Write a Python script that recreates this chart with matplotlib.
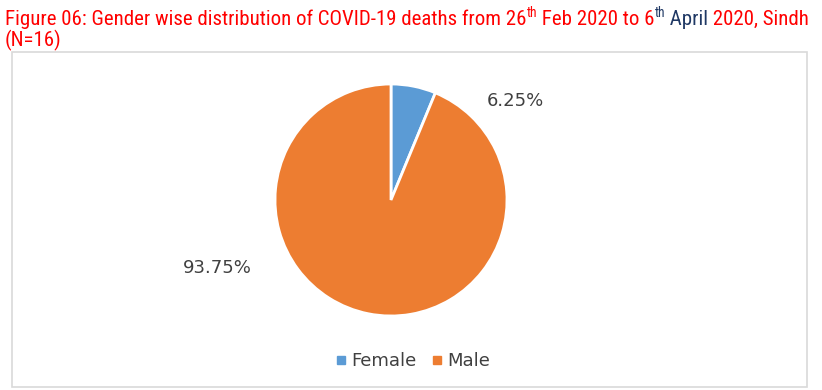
import matplotlib.pyplot as plt
from matplotlib.patches import Rectangle
from matplotlib.lines import Line2D
from matplotlib import font_manager

categories = ["Female", "Male"]
values = [1, 15]
pct_labels = ["6.25%", "93.75%"]
colors = ["#5B9BD5", "#ED7D31"]

W, H = 822, 390
fig = plt.figure(figsize=(W / 100, H / 100), dpi=100)

def fx(px):
    return px / W

def fy(py):
    return 1 - py / H

installed = {f.name for f in font_manager.fontManager.ttflist}
title_font = "DejaVu Sans"
for name in ["Liberation Sans Narrow", "DejaVu Sans Condensed", "Roboto Condensed",
             "Noto Sans", "Liberation Sans"]:
    if name in installed:
        title_font = name
        break
body_font = "DejaVu Sans"
red = "#FF0000"
navy = "#1F3864"
grey = "#404040"

# chart frame
fig.patches.append(Rectangle((fx(12), fy(387)), fx(807) - fx(12), fy(52) - fy(387),
                             transform=fig.transFigure, fill=False,
                             edgecolor="#D9D9D9", linewidth=1.2))

# title, built piece by piece (superscripts and blue word)
pieces = [
    ("Figure 06: Gender wise distribution of COVID-19 deaths from 26", red, False),
    ("th", red, True),
    (" Feb 2020 to 6", red, False),
    ("th", navy, True),
    (" April", navy, False),
    (" 2020, Sindh", red, False),
]
fig.canvas.draw()
renderer = fig.canvas.get_renderer()

def draw_title(size):
    texts = []
    x = 5
    for txt, col, sup in pieces:
        s = size * 0.65 if sup else size
        yy = 25 - size * 0.5 if sup else 25
        t = fig.text(fx(x), fy(yy), txt, color=col, fontsize=s,
                     family=title_font, va="baseline", ha="left")
        x += t.get_window_extent(renderer).width
        texts.append(t)
    return texts, x

texts, end = draw_title(15.5)
size = 15.5 * (808 - 5) / (end - 5)
for t in texts:
    t.remove()
draw_title(size)
fig.text(fx(5), fy(46), "(N=16)", color=red, fontsize=size,
         family=title_font, va="baseline", ha="left")

# pie
cx, cy, r = 391, 200, 116
ax = fig.add_axes([fx(cx - r), fy(cy + r), 2 * r / W, 2 * r / H])
ax.pie(values, colors=colors, startangle=90, counterclock=False,
       wedgeprops=dict(edgecolor="white", linewidth=2))
ax.set_xlim(-1, 1)
ax.set_ylim(-1, 1)
ax.axis("off")

fig.text(fx(515), fy(101), pct_labels[0], color=grey, fontsize=13,
         family=body_font, ha="center", va="center")
fig.text(fx(217), fy(268), pct_labels[1], color=grey, fontsize=13,
         family=body_font, ha="center", va="center")

# legend
handles = [Line2D([], [], marker="s", linestyle="none", markersize=5.5,
                  markerfacecolor=c, markeredgecolor=c) for c in colors]
fig.legend(handles, categories, loc="center", bbox_to_anchor=(fx(413), fy(361)),
           ncol=2, frameon=False, prop=dict(family=body_font, size=13),
           handlelength=0.5, handletextpad=0.3, columnspacing=0.9,
           labelcolor=grey)

fig.savefig("out.png", dpi=100)
